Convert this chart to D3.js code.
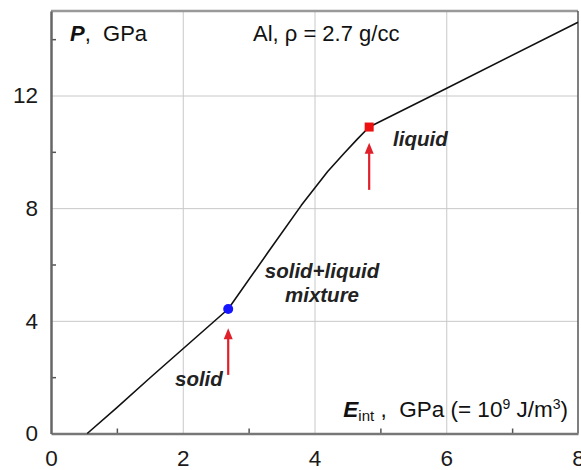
<!DOCTYPE html>
<html>
<head>
<meta charset="utf-8">
<script src="https://cdn.jsdelivr.net/npm/d3@7"></script>
<style>
  body { margin: 0; background: #fff; }
  svg { display: block; font-family: "Liberation Sans", Arial, sans-serif; }
  text { white-space: pre; }
</style>
</head>
<body>
<svg id="chart"></svg>
<script>
// Chart size and plot box
const width = 581;
const height = 470;
const plotLeft = 51, plotRight = 578, plotTop = 11, plotBottom = 433.5;

// Data
const curveE = [0.55, 1.0, 1.5, 2.0, 2.69, 3.3, 3.8, 4.2, 4.45, 4.65, 4.83, 6.0, 8.0];
const curveP = [0, 0.92, 1.97, 3.0, 4.42, 6.45, 8.1, 9.3, 9.95, 10.45, 10.88, 12.25, 14.6];
const solidPoint = [2.69, 4.42];
const liquidPoint = [4.83, 10.88];
const arrowE = [2.69, 4.83];
const arrowFrom = [2.08, 8.65];
const arrowTo = [3.74, 10.32];
const xTicks = [0, 2, 4, 6, 8];
const xMinor = [1, 3, 5, 7];
const yTicks = [0, 4, 8, 12];
const yMinor = [2, 6, 10, 14];

const svg = d3.select("#chart")
  .attr("width", width)
  .attr("height", height);

const x = d3.scaleLinear().domain([0, 8]).range([plotLeft, plotRight]);
const y = d3.scaleLinear().domain([0, 15]).range([plotBottom, plotTop]);

// Grid lines
svg.append("g")
  .attr("transform", `translate(0, ${plotBottom})`)
  .call(d3.axisBottom(x).tickValues(xTicks.slice(1, -1)).tickSize(-(plotBottom - plotTop)).tickFormat(""))
  .call(g => g.select(".domain").remove())
  .call(g => g.selectAll("line").attr("stroke", "#c8c8c8").attr("stroke-width", 1));

svg.append("g")
  .attr("transform", `translate(${plotLeft}, 0)`)
  .call(d3.axisLeft(y).tickValues(yTicks.slice(1)).tickSize(-(plotRight - plotLeft)).tickFormat(""))
  .call(g => g.select(".domain").remove())
  .call(g => g.selectAll("line").attr("stroke", "#c8c8c8").attr("stroke-width", 1));

// Minor ticks (inside)
svg.append("g")
  .attr("transform", `translate(0, ${plotBottom})`)
  .call(d3.axisBottom(x).tickValues(xMinor).tickSize(-5).tickFormat(""))
  .call(g => g.select(".domain").remove())
  .call(g => g.selectAll("line").attr("stroke", "#555").attr("stroke-width", 1.5));

svg.append("g")
  .attr("transform", `translate(${plotLeft}, 0)`)
  .call(d3.axisLeft(y).tickValues(yMinor).tickSize(-5).tickFormat(""))
  .call(g => g.select(".domain").remove())
  .call(g => g.selectAll("line").attr("stroke", "#555").attr("stroke-width", 1.5));

// Frame
svg.append("line").attr("x1", plotLeft).attr("x2", plotRight).attr("y1", plotTop).attr("y2", plotTop)
  .attr("stroke", "#999").attr("stroke-width", 2.5);
svg.append("line").attr("x1", plotRight).attr("x2", plotRight).attr("y1", plotTop).attr("y2", plotBottom)
  .attr("stroke", "#555").attr("stroke-width", 1.5);

// Tick labels
svg.append("g")
  .attr("transform", `translate(0, ${plotBottom})`)
  .call(d3.axisBottom(x).tickValues(xTicks).tickSize(0).tickPadding(17).tickFormat(d3.format("d")))
  .call(g => g.select(".domain").attr("stroke", "#777").attr("stroke-width", 2.5))
  .call(g => g.selectAll("text").attr("font-size", 22.5).attr("fill", "#1a1a1a")
    .attr("font-family", "Liberation Sans, Arial, sans-serif"));

svg.append("g")
  .attr("transform", `translate(${plotLeft}, 0)`)
  .call(d3.axisLeft(y).tickValues(yTicks).tickSize(0).tickPadding(13).tickFormat(d3.format("d")))
  .call(g => g.select(".domain").attr("stroke", "#666").attr("stroke-width", 2.5))
  .call(g => g.selectAll("text").attr("font-size", 22.5).attr("fill", "#1a1a1a")
    .attr("font-family", "Liberation Sans, Arial, sans-serif"));

// Curve
const line = d3.line()
  .x(d => x(d[0]))
  .y(d => y(d[1]));

svg.append("path")
  .datum(curveE.map((e, i) => [e, curveP[i]]))
  .attr("d", line)
  .attr("fill", "none")
  .attr("stroke", "#111")
  .attr("stroke-width", 1.6)
  .attr("stroke-linejoin", "round");

// Phase points
svg.append("circle")
  .attr("cx", x(solidPoint[0]))
  .attr("cy", y(solidPoint[1]))
  .attr("r", 5)
  .attr("fill", "#1515ff");

svg.append("rect")
  .attr("x", x(liquidPoint[0]) - 4.5)
  .attr("y", y(liquidPoint[1]) - 4.5)
  .attr("width", 9)
  .attr("height", 9)
  .attr("fill", "#ee1111");

// Red arrows
arrowE.forEach((e, i) => {
  const ax = x(e), y0 = y(arrowFrom[i]), y1 = y(arrowTo[i]);
  svg.append("line")
    .attr("x1", ax).attr("x2", ax)
    .attr("y1", y0).attr("y2", y1 + 8)
    .attr("stroke", "#e0202a").attr("stroke-width", 2.2);
  svg.append("path")
    .attr("d", `M${ax},${y1} L${ax - 4.5},${y1 + 11} L${ax + 4.5},${y1 + 11} Z`)
    .attr("fill", "#e0202a");
});

// Texts
const P = svg.append("text").attr("x", 70).attr("y", 41).attr("font-size", 22).attr("fill", "#111");
P.append("tspan").attr("font-weight", "bold").attr("font-style", "italic").text("P");
P.append("tspan").text(",  GPa");

svg.append("text").attr("x", 253).attr("y", 41).attr("font-size", 22).attr("fill", "#111")
  .text("Al, ρ = 2.7 g/cc");

const E = svg.append("text").attr("x", 568).attr("y", 417).attr("font-size", 22.5)
  .attr("fill", "#111").attr("text-anchor", "end");
E.append("tspan").attr("font-weight", "bold").attr("font-style", "italic").text("E");
E.append("tspan").attr("font-size", 15).attr("dy", 4).text("int");
E.append("tspan").attr("dy", -4).text(" ,  GPa (= 10");
E.append("tspan").attr("font-size", 14).attr("dy", -8).text("9");
E.append("tspan").attr("dy", 8).text(" J/m");
E.append("tspan").attr("font-size", 14).attr("dy", -8).text("3");
E.append("tspan").attr("dy", 8).text(")");

const labelStyle = sel => sel.attr("font-size", 20.5).attr("font-weight", "bold")
  .attr("font-style", "italic").attr("fill", "#222");

svg.append("text").attr("x", 322).attr("y", 278).attr("text-anchor", "middle")
  .call(labelStyle).text("solid+liquid");
svg.append("text").attr("x", 322).attr("y", 302).attr("text-anchor", "middle")
  .call(labelStyle).text("mixture");
svg.append("text").attr("x", 393).attr("y", 146).call(labelStyle).text("liquid");
svg.append("text").attr("x", 175).attr("y", 386).call(labelStyle).text("solid");
</script>
</body>
</html>
